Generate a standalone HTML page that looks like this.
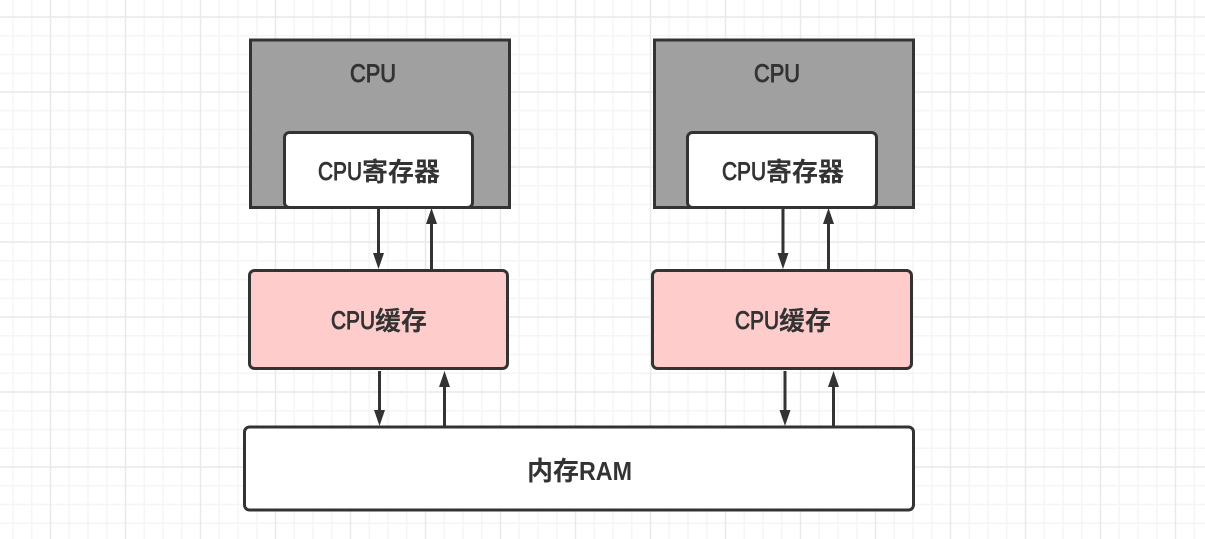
<!DOCTYPE html>
<html><head><meta charset="utf-8"><style>
html,body{margin:0;padding:0;background:#fff}
svg{display:block}
text{font-family:"Liberation Sans","Noto Sans CJK SC",sans-serif;font-size:25px;fill:#333;stroke:#333;stroke-width:.9}
.z{font-size:26px;font-weight:700;stroke-width:0;font-family:"Noto Sans CJK SC","WenQuanYi Zen Hei",sans-serif}
.b{font-weight:700;stroke-width:0;font-size:26px}
</style></head><body>
<svg width="1205" height="539" viewBox="0 0 1205 539" xmlns="http://www.w3.org/2000/svg">
<defs>
<pattern id="g" x="-24.5" y="-58" width="75" height="75" patternUnits="userSpaceOnUse">
<path d="M18.75 0V75M37.5 0V75M56.25 0V75M0 18.75H75M0 37.5H75M0 56.25H75" stroke="#f5f5f5" stroke-width="1.5" fill="none"/>
<path d="M0 0V75M75 0V75M0 0H75M0 75H75" stroke="#e9e9e9" stroke-width="1.5" fill="none"/>
</pattern>
</defs>
<rect width="1205" height="539" fill="#fff"/>
<rect width="1205" height="539" fill="url(#g)"/>
<g stroke="#333" stroke-width="3">
<rect x="250.500" y="40" width="259" height="167.500" fill="#a0a0a0"/>
<rect x="654.500" y="40" width="259" height="167.500" fill="#a0a0a0"/>
<rect x="284.500" y="132.500" width="188" height="75" rx="5" fill="#fff"/>
<rect x="687.500" y="132.500" width="189" height="75" rx="5" fill="#fff"/>
<rect x="249.500" y="270.500" width="258" height="98" rx="5" fill="#ffcccc"/>
<rect x="652.500" y="270.500" width="259" height="98" rx="5" fill="#ffcccc"/>
<rect x="244.500" y="427" width="669" height="83" rx="5" fill="#fff"/>
<path d="M378.500 208V256M431.500 272V222M379.500 371V412M444.500 426V385M783 208V256M828.500 269V222M785 371V412M833.500 426V385" fill="none"/>
</g>
<g fill="#333">
<path d="M373 253H384L378.500 269Z"/>
<path d="M426 224H437L431.500 208Z"/>
<path d="M374 410H385L379.500 426Z"/>
<path d="M439 387H450L444.500 371Z"/>
<path d="M777.500 253H788.500L783 269Z"/>
<path d="M823 224H834L828.500 208Z"/>
<path d="M779.500 410H790.500L785 426Z"/>
<path d="M828 387H839L833.500 371Z"/>
</g>
<text x="350" y="82" textLength="46" lengthAdjust="spacingAndGlyphs">CPU</text>
<text x="754" y="82" textLength="46" lengthAdjust="spacingAndGlyphs">CPU</text>
<text x="318" y="180" textLength="44" lengthAdjust="spacingAndGlyphs">CPU</text>
<text class="z" x="362" y="181">寄存器</text>
<text x="722" y="180" textLength="44" lengthAdjust="spacingAndGlyphs">CPU</text>
<text class="z" x="766" y="181">寄存器</text>
<text x="331" y="329" textLength="44" lengthAdjust="spacingAndGlyphs">CPU</text>
<text class="z" x="375" y="330">缓存</text>
<text x="735" y="329" textLength="44" lengthAdjust="spacingAndGlyphs">CPU</text>
<text class="z" x="779" y="330">缓存</text>
<text class="z" x="527" y="480">内存</text>
<text class="b" x="579" y="480" textLength="53" lengthAdjust="spacingAndGlyphs">RAM</text>
</svg>
</body></html>
